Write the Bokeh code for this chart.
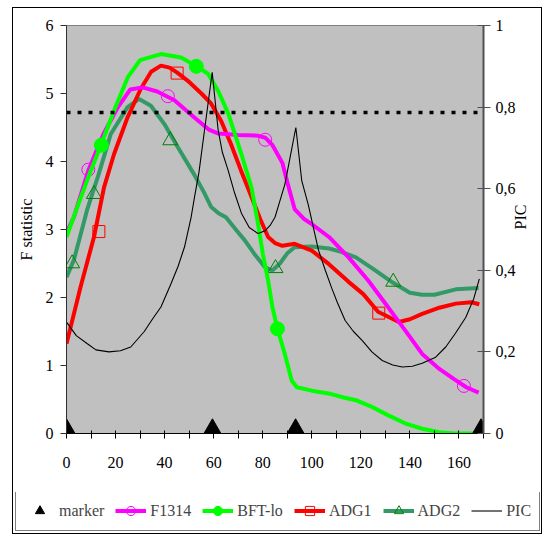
from bokeh.plotting import figure
from bokeh.models import (Range1d, LinearAxis, FixedTicker, Span, Legend, LegendItem,
                          CustomJSTickFormatter)
from bokeh.transform import dodge
from bokeh.embed import file_html
from bokeh.resources import INLINE
import math

# ---------------- data ----------------
# marker positions along the map (plotted on the F axis at 0)
marker_pos = [0, 59.5, 93.4, 169]
marker_val = [0, 0, 0, 0]

# F statistic profiles
f1314_x = [0, 3, 9, 15, 21, 26, 31, 37, 44, 52, 58, 62, 70, 78, 81, 84, 88, 90, 93, 97, 100,
           107, 115, 123, 129, 138, 145, 152, 158, 163, 168]
f1314_y = [2.95, 3.18, 3.88, 4.40, 4.80, 5.06, 5.09, 5.03, 4.90, 4.65, 4.47, 4.41, 4.39, 4.38,
           4.35, 4.24, 3.98, 3.70, 3.30, 3.15, 3.08, 2.89, 2.59, 2.25, 1.96, 1.52, 1.17, 0.95,
           0.80, 0.68, 0.60]
f1314_mx = [8.9, 41.3, 81, 162]
f1314_my = [3.88, 4.96, 4.32, 0.70]

bft_x = [0, 4.4, 9, 14, 19.4, 25, 30, 38.5, 46.7, 53, 57.7, 61.8, 66, 71.3, 75.4, 78, 80, 82.2,
         84, 86, 89, 91.8, 93.9, 100, 108, 113, 118, 124, 131, 138, 145, 152, 158, 168]
bft_y = [2.89, 3.33, 3.78, 4.24, 4.75, 5.24, 5.49, 5.58, 5.53, 5.40, 5.29, 5.04, 4.70, 4.11,
         3.62, 3.10, 2.65, 2.25, 1.85, 1.54, 1.17, 0.78, 0.68, 0.63, 0.58, 0.53, 0.49, 0.40,
         0.27, 0.15, 0.07, 0.02, 0.0, 0.0]
bft_mx = [14.2, 52.9, 86]
bft_my = [4.24, 5.40, 1.54]

adg1_x = [0, 5.7, 11.2, 15.3, 19.4, 24.9, 30.3, 34.5, 38.5, 42, 45, 50, 55, 59, 63, 67, 71,
          75.4, 79, 82.2, 85, 88, 93, 100, 107, 115, 121, 127, 135.5, 140, 145, 152, 158.7,
          165, 168.3]
adg1_y = [1.32, 2.15, 2.89, 3.62, 4.11, 4.65, 5.07, 5.32, 5.41, 5.38, 5.31, 5.17, 5.00, 4.85,
          4.60, 4.26, 3.88, 3.48, 3.15, 2.89, 2.80, 2.76, 2.79, 2.69, 2.49, 2.23, 2.05, 1.79,
          1.64, 1.68, 1.76, 1.85, 1.91, 1.93, 1.90]
adg1_mx = [13.2, 45.1, 127.3]
adg1_my = [2.97, 5.30, 1.77]

adg2_x = [0, 3, 8.5, 13, 18, 24.9, 29.6, 34.4, 39.9, 45.4, 52.2, 56, 59, 62, 65, 69, 72.7, 77,
          81, 84, 87, 90, 93, 100, 107, 112, 118, 125, 133, 140, 145, 150, 158.7, 168]
adg2_y = [2.30, 2.55, 3.30, 3.80, 4.40, 4.80, 4.92, 4.82, 4.55, 4.21, 3.80, 3.55, 3.33, 3.24,
          3.18, 3.00, 2.84, 2.62, 2.44, 2.40, 2.50, 2.65, 2.74, 2.75, 2.72, 2.67, 2.59, 2.42,
          2.22, 2.07, 2.04, 2.04, 2.12, 2.14]
adg2_mx = [2.3, 11.2, 42.3, 85.2, 133.2]
adg2_my = [2.50, 3.52, 4.31, 2.43, 2.23]

# PIC profile (right axis, 0-1)
pic_x = [0, 4, 8.5, 12, 17.3, 22, 26.2, 31.7, 35, 38.5, 42.6, 45.5, 48.1, 50.8, 52.2, 54, 56.3,
         59.4, 61.8, 63.5, 65.9, 68.5, 71.3, 74.5, 78.1, 81, 83, 85, 87, 89, 91.1, 93.5, 95.9,
         98.6, 102.7, 105.5, 108.2, 110.5, 113.6, 117, 120.5, 124.5, 128.7, 133, 136.9, 141,
         145, 150.5, 154.6, 158.5, 162.8, 166, 168.3]
pic_y = [0.273, 0.24, 0.22, 0.205, 0.20, 0.203, 0.212, 0.25, 0.28, 0.31, 0.367, 0.41, 0.457,
         0.53, 0.58, 0.64, 0.745, 0.885, 0.745, 0.69, 0.645, 0.59, 0.54, 0.505, 0.49, 0.497,
         0.51, 0.53, 0.57, 0.61, 0.675, 0.75, 0.62, 0.56, 0.45, 0.40, 0.355, 0.32, 0.277, 0.25,
         0.228, 0.20, 0.179, 0.168, 0.163, 0.165, 0.172, 0.187, 0.212, 0.245, 0.285, 0.33,
         0.379]

threshold = 4.72

x_major = [0, 20, 40, 60, 80, 100, 120, 140, 160]
x_minor = [10, 30, 50, 70, 90, 110, 130, 150, 170]
f_ticks = [0, 1, 2, 3, 4, 5, 6]
pic_ticks = [0, 0.2, 0.4, 0.6, 0.8, 1.0]

# ---------------- styles ----------------
SERIF = "Liberation Serif"
FS = "16px"
STYLE = {
    "marker": dict(marker="triangle", size=17, fill_color="black", line_color="black"),
    "f1314_line": dict(line_color="#ff00ff", line_width=4),
    "f1314_pts": dict(marker="circle", size=13, fill_color=None, line_color="#ff00ff", line_width=1),
    "bft_line": dict(line_color="#00ff00", line_width=4),
    "bft_pts": dict(marker="circle", size=14, fill_color="#00ff00", line_color="#00ff00"),
    "adg1_line": dict(line_color="#ff0000", line_width=4),
    "adg1_pts": dict(marker="square", size=12, fill_color=None, line_color="#ff0000", line_width=1),
    "adg2_line": dict(line_color="#339966", line_width=4),
    "adg2_pts": dict(marker="triangle", size=15, fill_color=None, line_color="#008000", line_width=1),
    "pic_line": dict(line_color="black", line_width=1.1),
}

# ---------------- main chart ----------------
p = figure(width=530, height=485, output_backend="svg", toolbar_location=None,
           x_range=Range1d(0, 170), y_range=Range1d(0, 6),
           min_border_left=53, min_border_right=60, min_border_top=17, min_border_bottom=60)
p.extra_y_ranges = {"pic": Range1d(0, 1)}
p.background_fill_color = "#c0c0c0"
p.border_fill_color = "white"
p.outline_line_color = "#808080"
p.grid.visible = False
p.margin = (7, 0, 0, 12)
p.styles = {"border": "1px solid black", "border-bottom": "none", "vertical-align": "top"}

xa = p.xaxis[0]
xa.ticker = FixedTicker(ticks=x_major, minor_ticks=x_minor)
xa.major_tick_in = 3
xa.major_tick_out = 5
xa.minor_tick_in = 3
xa.minor_tick_out = 5
xa.axis_line_color = "black"
xa.major_tick_line_color = "black"
xa.minor_tick_line_color = "black"
xa.major_label_standoff = 18

ya = p.yaxis[0]
ya.ticker = FixedTicker(ticks=f_ticks)
ya.major_tick_in = 0
ya.major_tick_out = 6
ya.minor_tick_line_color = None
ya.axis_label = "F statistic"
ya.axis_label_standoff = 8
ya.major_label_standoff = 7
ya.axis_line_color = "#303030"
ya.major_tick_line_color = "#303030"

ra = LinearAxis(y_range_name="pic", ticker=FixedTicker(ticks=pic_ticks),
                formatter=CustomJSTickFormatter(
                    code="return tick.toFixed(1).replace(/\\.0$/, '').replace('.', ',')"),
                axis_label="PIC")
ra.major_tick_in = 6
ra.major_tick_out = 7
ra.minor_tick_line_color = None
ra.axis_line_color = "#505050"
ra.axis_line_width = 2
ra.major_tick_line_color = "#505050"
ra.major_label_standoff = 5
ra.axis_label_standoff = 2
if "axis_label_orientation" in ra.properties():
    ra.axis_label_orientation = math.pi / 2
p.add_layout(ra, "right")

for ax in (xa, ya, ra):
    ax.major_label_text_font = SERIF
    ax.major_label_text_font_size = FS
    ax.major_label_text_color = "black"
    ax.axis_label_text_font = SERIF
    ax.axis_label_text_font_size = FS
    ax.axis_label_text_font_style = "normal"
    ax.axis_label_text_color = "black"

# threshold line
p.add_layout(Span(location=threshold, dimension="width", line_color="black",
                  line_width=3.5, line_dash="4 7"))

# series
p.line(adg2_x, adg2_y, **STYLE["adg2_line"])
p.scatter(adg2_mx, adg2_my, **STYLE["adg2_pts"])
p.line(adg1_x, adg1_y, **STYLE["adg1_line"])
p.scatter(adg1_mx, adg1_my, **STYLE["adg1_pts"])
p.line(f1314_x, f1314_y, **STYLE["f1314_line"])
p.scatter(f1314_mx, f1314_my, **STYLE["f1314_pts"])
p.line(bft_x, bft_y, **STYLE["bft_line"])
p.scatter(bft_mx, bft_my, **STYLE["bft_pts"])
p.line(pic_x, pic_y, y_range_name="pic", **STYLE["pic_line"])
p.scatter(x="x", y=dodge("y", 0.072, range=p.y_range),
          source=dict(x=marker_pos, y=marker_val), **STYLE["marker"])

# ---------------- legend strip ----------------
lg = figure(width=530, height=42, output_backend="svg", toolbar_location=None,
            x_range=Range1d(0, 1), y_range=Range1d(0, 1),
            x_axis_type=None, y_axis_type=None, min_border=0)
lg.grid.visible = False
lg.outline_line_color = None
lg.background_fill_color = "white"
lg.border_fill_color = "white"
lg.margin = (0, 0, 0, 12)
lg.styles = {"border": "1px solid black", "border-top": "none", "display": "block"}

NAN = float("nan")

def key_line(name):
    # legend key only: a single undefined point, nothing drawn in the strip
    return lg.line([NAN], [NAN], **STYLE[name])

def key_pts(name):
    return lg.scatter([NAN], [NAN], **STYLE[name])

legend = Legend(items=[
    LegendItem(label="marker", renderers=[key_pts("marker")]),
    LegendItem(label="F1314", renderers=[key_line("f1314_line"), key_pts("f1314_pts")]),
    LegendItem(label="BFT-lo", renderers=[key_line("bft_line"), key_pts("bft_pts")]),
    LegendItem(label="ADG1", renderers=[key_line("adg1_line"), key_pts("adg1_pts")]),
    LegendItem(label="ADG2", renderers=[key_line("adg2_line"), key_pts("adg2_pts")]),
    LegendItem(label="PIC", renderers=[key_line("pic_line")]),
], orientation="horizontal", location=(2, 3))
legend.margin = 0
legend.padding = 8
legend.spacing = 11
legend.glyph_width = 31
legend.glyph_height = 23
legend.label_height = 23
legend.label_standoff = 4
legend.label_text_font = SERIF
legend.label_text_font_size = FS
legend.border_line_color = "black"
legend.border_line_width = 1
legend.background_fill_color = "white"
legend.background_fill_alpha = 1
lg.add_layout(legend, "center")

open("out.html", "w").write(file_html([p, lg], INLINE))
